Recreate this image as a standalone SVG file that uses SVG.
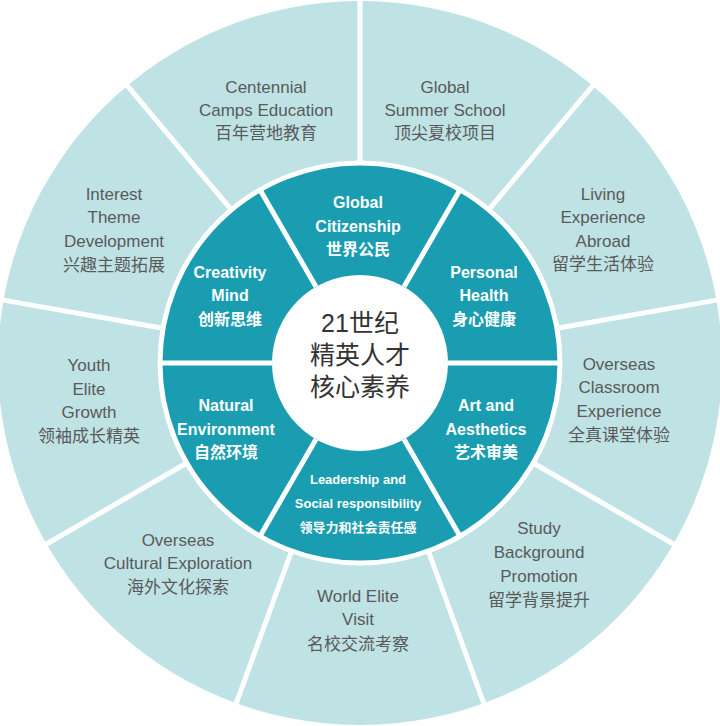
<svg xmlns="http://www.w3.org/2000/svg" width="720" height="726" viewBox="0 0 720 726">
<style>
.o{font-family:"Liberation Sans","Noto Sans CJK SC",sans-serif;font-size:17px;fill:#5a5a5a;text-anchor:middle}
.i{font-family:"Liberation Sans","Noto Sans CJK SC",sans-serif;font-size:16px;fill:#fff;font-weight:bold;text-anchor:middle}
.s{font-size:13px}
.c{font-family:"Liberation Sans","Noto Sans CJK SC",sans-serif;font-size:25px;fill:#333;text-anchor:middle}
.sep{stroke:#fff;stroke-width:5}
</style>
<rect width="720" height="726" fill="#fff"/>
<circle cx="360" cy="363" r="362" fill="#bfe2e5"/>
<circle cx="360" cy="363" r="200" fill="#1a9db0" stroke="#fff" stroke-width="5"/>
<circle cx="360" cy="363" r="88" fill="#fff"/>
<g id="connectors" class="sep">
<line x1="360" y1="163" x2="360" y2="-2"/>
<line x1="488.6" y1="209.8" x2="594.7" y2="83.4"/>
<line x1="557" y1="328.2" x2="719.5" y2="299.6"/>
<line x1="533.2" y1="463" x2="676.1" y2="545.5"/>
<line x1="428.4" y1="551" x2="484.8" y2="706.1"/>
<line x1="291.6" y1="551" x2="235.2" y2="706.1"/>
<line x1="186.8" y1="463" x2="43.9" y2="545.5"/>
<line x1="163" y1="328.2" x2="0.5" y2="299.6"/>
<line x1="231.4" y1="209.8" x2="125.4" y2="83.4"/>
<line x1="316" y1="286.8" x2="260" y2="189.8"/>
<line x1="404" y1="286.8" x2="460" y2="189.8"/>
<line x1="448" y1="363" x2="560" y2="363"/>
<line x1="404" y1="439.2" x2="460" y2="536.2"/>
<line x1="316" y1="439.2" x2="260" y2="536.2"/>
<line x1="272" y1="363" x2="160" y2="363"/>
</g>
<g id="center"><text class="c" x="360" y="332">21世纪</text><text class="c" x="360" y="364">精英人才</text><text class="c" x="360" y="396">核心素养</text></g>
<g id="global-citizenship"><text class="i" x="358" y="208">Global</text><text class="i" x="358" y="232">Citizenship</text><text class="i" x="358" y="255">世界公民</text></g>
<g id="personal-health"><text class="i" x="484" y="278">Personal</text><text class="i" x="484" y="301">Health</text><text class="i" x="484" y="325">身心健康</text></g>
<g id="art"><text class="i" x="486" y="411">Art and</text><text class="i" x="486" y="435">Aesthetics</text><text class="i" x="486" y="458">艺术审美</text></g>
<g id="leadership"><text class="i s" x="358" y="484">Leadership and</text><text class="i s" x="358" y="508">Social responsibility</text><text class="i s" x="358" y="532">领导力和社会责任感</text></g>
<g id="natural"><text class="i" x="226" y="411">Natural</text><text class="i" x="226" y="435">Environment</text><text class="i" x="226" y="458">自然环境</text></g>
<g id="creativity"><text class="i" x="230" y="278">Creativity</text><text class="i" x="230" y="301">Mind</text><text class="i" x="230" y="325">创新思维</text></g>
<g id="centennial"><text class="o" x="266" y="93">Centennial</text><text class="o" x="266" y="116">Camps Education</text><text class="o" x="266" y="139">百年营地教育</text></g>
<g id="summer"><text class="o" x="445" y="93">Global</text><text class="o" x="445" y="116">Summer School</text><text class="o" x="445" y="139">顶尖夏校项目</text></g>
<g id="living"><text class="o" x="603" y="200">Living</text><text class="o" x="603" y="223">Experience</text><text class="o" x="603" y="247">Abroad</text><text class="o" x="603" y="270">留学生活体验</text></g>
<g id="classroom"><text class="o" x="619" y="370">Overseas</text><text class="o" x="619" y="393">Classroom</text><text class="o" x="619" y="417">Experience</text><text class="o" x="619" y="441">全真课堂体验</text></g>
<g id="study"><text class="o" x="539" y="534">Study</text><text class="o" x="539" y="558">Background</text><text class="o" x="539" y="582">Promotion</text><text class="o" x="539" y="606">留学背景提升</text></g>
<g id="world-elite"><text class="o" x="358" y="602">World Elite</text><text class="o" x="358" y="625">Visit</text><text class="o" x="358" y="650">名校交流考察</text></g>
<g id="cultural"><text class="o" x="178" y="546">Overseas</text><text class="o" x="178" y="569">Cultural Exploration</text><text class="o" x="178" y="593">海外文化探索</text></g>
<g id="youth"><text class="o" x="89" y="371">Youth</text><text class="o" x="89" y="395">Elite</text><text class="o" x="89" y="418">Growth</text><text class="o" x="89" y="442">领袖成长精英</text></g>
<g id="interest"><text class="o" x="114" y="200">Interest</text><text class="o" x="114" y="223">Theme</text><text class="o" x="114" y="247">Development</text><text class="o" x="114" y="271">兴趣主题拓展</text></g>
</svg>
